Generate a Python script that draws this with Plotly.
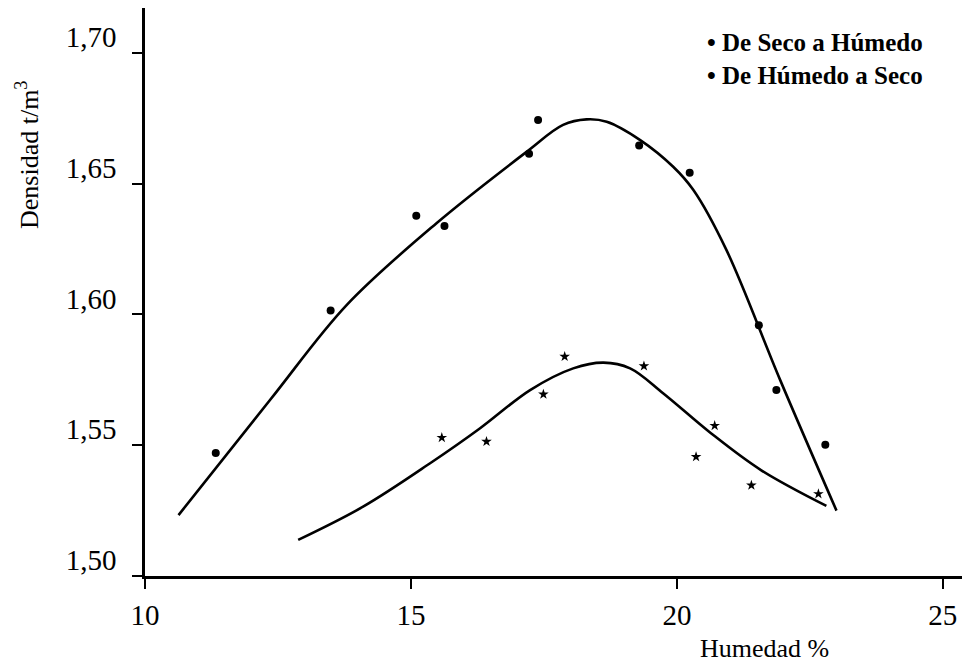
import plotly.graph_objects as go

# Measured points
seco_x = [11.33, 13.49, 15.10, 15.63, 17.22, 17.39, 19.29, 20.24, 21.54, 21.87, 22.79]
seco_y = [1.5470, 1.6015, 1.6378, 1.6338, 1.6615, 1.6744, 1.6646, 1.6542, 1.5959, 1.5711, 1.5502]

hum_x = [15.58, 16.42, 17.49, 17.89, 19.38, 20.36, 20.71, 21.40, 22.66]
hum_y = [1.5529, 1.5514, 1.5695, 1.5839, 1.5803, 1.5456, 1.5575, 1.5347, 1.5314]

# Fitted curves
curve1_x = [10.63, 12.35, 13.79, 15.48, 17.18, 17.86, 18.30, 18.68, 19.31, 19.93, 20.31,
            20.93, 21.94, 23.00]
curve1_y = [1.5233, 1.5673, 1.6036, 1.6349, 1.6623, 1.6725, 1.6746, 1.6737, 1.6667, 1.6565,
            1.6476, 1.6247, 1.5750, 1.5250]

curve2_x = [12.88, 14.10, 15.36, 16.30, 17.24, 18.05, 18.62, 19.12, 19.74, 20.64, 21.58, 22.81]
curve2_y = [1.5138, 1.5265, 1.5431, 1.5565, 1.5711, 1.5794, 1.5816, 1.5794, 1.5699, 1.5546,
            1.5405, 1.5268]

x_ticks = [10, 15, 20, 25]
y_ticks = [1.50, 1.55, 1.60, 1.65, 1.70]
y_tick_text = ["1,50", "1,55", "1,60", "1,65", "1,70"]

legend_labels = ["De Seco a Húmedo", "De Húmedo a Seco"]

FONT = "Liberation Serif"
OFF = 8                      # page body margin
W, H = 970 - OFF, 668 - OFF
L, T, B = 145 - OFF, 8 - OFF, 668 - 576
PW, PH = W - L, H - T - B


def px_x(p):                 # screen pixel -> paper coordinate
    return (p - OFF - L) / PW


def px_y(p):
    return (H - B - (p - OFF)) / PH


fig = go.Figure()
for cx, cy in ((curve1_x, curve1_y), (curve2_x, curve2_y)):
    fig.add_trace(go.Scatter(x=cx, y=cy, mode="lines",
                             line=dict(color="black", width=2.6, shape="spline", smoothing=1.0),
                             showlegend=False, hoverinfo="skip", cliponaxis=False))
fig.add_trace(go.Scatter(x=seco_x, y=seco_y, mode="markers", name=legend_labels[0],
                         marker=dict(color="black", size=8, symbol="circle"),
                         showlegend=False))
fig.add_trace(go.Scatter(x=hum_x, y=hum_y, mode="markers", name=legend_labels[1],
                         marker=dict(color="black", size=8, symbol="star"),
                         showlegend=False))

# Legend as text
for i, lab in enumerate(legend_labels):
    fig.add_annotation(xref="paper", yref="paper", x=px_x(705), y=px_y(42 + 33 * i),
                       xanchor="left", yanchor="middle", showarrow=False,
                       text="<b>•</b> <b>" + lab + "</b>",
                       font=dict(family=FONT, size=25, color="black"))

# Axis titles
fig.add_annotation(xref="paper", yref="paper", x=px_x(764), y=px_y(648),
                   xanchor="center", yanchor="middle", showarrow=False,
                   text="Humedad %", font=dict(family=FONT, size=26, color="black"))
fig.add_annotation(xref="paper", yref="paper", x=px_x(27), y=px_y(155),
                   xanchor="center", yanchor="middle", showarrow=False, textangle=-90,
                   text="Densidad t/m<sup>3</sup>", font=dict(family=FONT, size=26, color="black"))

fig.update_layout(
    width=W, height=H,
    margin=dict(l=L, r=0, t=T, b=B, pad=0, autoexpand=False),
    paper_bgcolor="white", plot_bgcolor="white",
    font=dict(family=FONT, color="black"),
)
fig.update_xaxes(range=[10, 25.51], tickvals=x_ticks, ticks="outside", ticklen=10, tickwidth=2,
                 tickcolor="black", showline=True, linecolor="black", linewidth=2.5,
                 showgrid=False, zeroline=False, tickfont=dict(family=FONT, size=29),
                 ticklabelstandoff=1, automargin=False)
fig.update_yaxes(range=[1.5, 1.7172], tickvals=y_ticks, ticktext=y_tick_text, ticks="outside",
                 ticklen=10, tickwidth=2, tickcolor="black", showline=True, linecolor="black",
                 linewidth=2.5, showgrid=False, zeroline=False,
                 tickfont=dict(family=FONT, size=29), ticklabelstandoff=10, ticklabelshift=-16,
                 automargin=False)

fig.write_html("out.html")
